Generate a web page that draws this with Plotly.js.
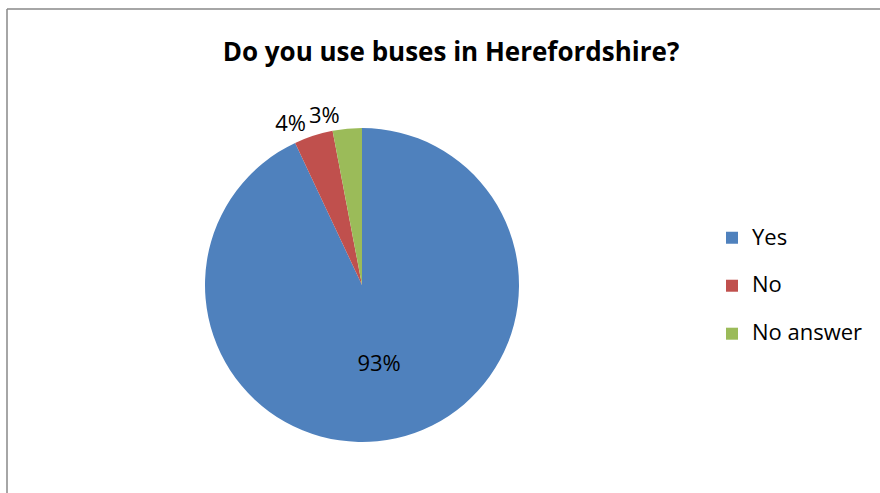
<!DOCTYPE html>
<html>
<head>
<meta charset="utf-8">
<script src="https://cdn.plot.ly/plotly-3.0.1.min.js"></script>
<style>
html,body{margin:0;padding:0;background:#fff;}
#chart{width:880px;height:493px;}
</style>
</head>
<body>
<div id="chart"></div>
<script>
const categories = ['Yes', 'No', 'No answer'];
const values = [93, 4, 3];
const colors = ['#4F81BD', '#C0504D', '#9BBB59'];
const chartTitle = 'Do you use buses in Herefordshire?';

const FONT = '"Open Sans", sans-serif';
const pieDomain = {x: [205/880, 519/880], y: [51/493, 365/493]};

// main pie: 93% inside, 4% outside
const trace = {
  type: 'pie',
  labels: categories.map(c => '<span style="font-size:22px">' + c + '</span><br> '),
  values: values,
  sort: false,
  direction: 'clockwise',
  rotation: 0,
  marker: {colors: colors, line: {width: 0}},
  texttemplate: ['%{percent:.0%}', '%{percent:.0%}', ''],
  textposition: ['inside', 'outside', 'none'],
  insidetextorientation: 'horizontal',
  textfont: {family: FONT, size: 22, color: '#000'},
  outsidetextfont: {family: FONT, size: 22, color: '#000'},
  insidetextfont: {family: FONT, size: 22, color: '#000'},
  domain: pieDomain,
  automargin: false,
  hoverinfo: 'skip'
};

// overlay with the same data, only for the small "No answer" label (separate collision group)
const labelTrace = {
  type: 'pie',
  labels: categories,
  values: values,
  sort: false,
  direction: 'clockwise',
  rotation: 0,
  marker: {colors: ['rgba(0,0,0,0)', 'rgba(0,0,0,0)', 'rgba(0,0,0,0)'], line: {width: 0}},
  texttemplate: ['', '', '%{percent:.0%}'],
  textposition: ['none', 'none', 'outside'],
  outsidetextfont: {family: FONT, size: 22, color: '#000'},
  domain: pieDomain,
  automargin: false,
  showlegend: false,
  hoverinfo: 'skip'
};

const layout = {
  width: 880, height: 493,
  margin: {l: 0, r: 0, t: 0, b: 0},
  paper_bgcolor: '#fff',
  title: {text: '<b>' + chartTitle + '</b>', font: {family: FONT, size: 26, color: '#000'},
          x: 451/880, xanchor: 'center', y: 1 - 52/493, yanchor: 'middle'},
  showlegend: true,
  legend: {x: 712/880, y: 1 - 220/493, xanchor: 'left', yanchor: 'top', valign: 'top',
           font: {family: FONT, size: 17.3, color: '#000'}, itemwidth: 30},
  shapes: [
    {type: 'line', xref: 'paper', yref: 'paper', x0: 7/880, x1: 1, y0: 1 - 9/493, y1: 1 - 9/493, line: {color: '#888', width: 1.5}},
    {type: 'line', xref: 'paper', yref: 'paper', x0: 7/880, x1: 7/880, y0: 0, y1: 1 - 9/493, line: {color: '#888', width: 1.5}}
  ]
};

Plotly.newPlot('chart', [trace, labelTrace], layout, {displayModeBar: false, staticPlot: true});
</script>
</body>
</html>
